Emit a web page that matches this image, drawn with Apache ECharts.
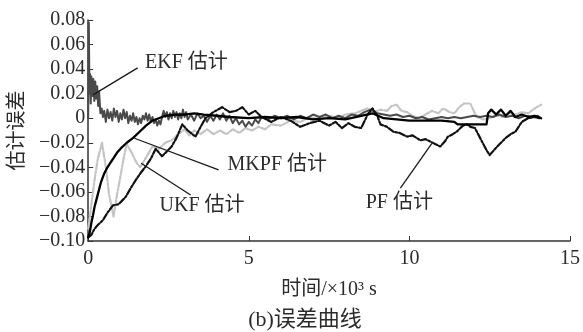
<!DOCTYPE html>
<html>
<head>
<meta charset="utf-8">
<script src="https://cdn.jsdelivr.net/npm/echarts@6/dist/echarts.min.js"></script>
<style>
  html, body { margin: 0; padding: 0; background: #fff; }
  #chart { width: 583px; height: 332px; }
</style>
</head>
<body>
<div id="chart"></div>
<script>
// Estimation error of four filters over time (time in 10^3 s)
const xTicks = [0, 5, 10, 15];
const yTicks = [-0.10, -0.08, -0.06, -0.04, -0.02, 0, 0.02, 0.04, 0.06, 0.08];

// EKF estimate error: [time, error]
const ekfData = [
  [0.00, 0.000], [0.02, 0.078], [0.04, 0.020], [0.06, 0.036], [0.08, 0.012], [0.10, 0.034],
  [0.13, 0.018], [0.16, 0.032], [0.19, 0.014], [0.22, 0.030], [0.25, 0.016], [0.28, 0.026],
  [0.31, 0.010], [0.34, 0.022], [0.38, 0.004], [0.42, 0.008], [0.46, 0.001], [0.50, 0.006],
  [0.55, -0.003], [0.60, 0.007], [0.65, 0.000], [0.70, 0.005], [0.75, -0.002], [0.80, 0.008],
  [0.85, 0.001], [0.90, 0.006], [0.95, -0.003], [1.00, 0.004], [1.05, -0.001], [1.10, 0.007],
  [1.15, 0.000], [1.20, 0.005], [1.25, -0.004], [1.30, 0.002], [1.35, -0.002], [1.40, 0.004],
  [1.45, -0.003], [1.50, 0.001], [1.55, -0.005], [1.60, 0.000], [1.65, -0.004], [1.70, 0.002],
  [1.75, -0.001], [1.80, 0.004], [1.85, -0.002], [1.90, 0.003], [1.95, -0.003], [2.00, 0.001],
  [2.05, -0.004], [2.10, -0.001], [2.15, -0.006], [2.20, -0.002], [2.25, -0.005], [2.30, 0.001],
  [2.35, 0.006], [2.40, 0.001], [2.45, 0.005], [2.50, -0.001], [2.55, 0.004], [2.60, 0.000],
  [2.65, 0.006], [2.70, 0.001], [2.75, 0.005], [2.80, -0.001], [2.85, 0.004], [2.90, 0.000],
  [2.95, 0.007], [3.00, 0.001], [3.05, 0.005], [3.10, -0.001], [3.20, 0.003], [3.30, -0.002],
  [3.40, 0.004], [3.50, 0.000], [3.60, 0.002], [3.70, -0.003], [3.80, 0.002], [3.90, -0.002],
  [4.00, 0.003], [4.10, -0.001], [4.20, 0.004], [4.30, -0.002], [4.40, 0.002], [4.50, -0.004],
  [4.60, 0.000], [4.70, -0.005], [4.80, -0.002], [4.90, -0.007], [5.00, -0.003], [5.10, -0.006],
  [5.20, -0.001], [5.30, -0.004], [5.40, 0.001], [5.60, -0.001], [5.80, 0.002], [6.00, 0.000],
  [6.20, 0.002], [6.40, -0.001], [6.60, 0.002], [6.80, 0.000], [7.00, 0.003], [7.20, 0.001],
  [7.40, 0.003], [7.60, 0.000], [7.80, 0.002], [8.00, 0.000], [8.20, 0.003], [8.40, 0.002],
  [8.60, 0.005], [8.80, 0.007], [9.00, 0.004], [9.20, 0.003], [9.40, 0.002], [9.60, 0.003],
  [9.80, 0.001], [10.00, 0.002], [10.20, 0.000], [10.40, 0.001], [10.60, -0.001], [10.80, 0.000],
  [11.00, 0.001], [11.20, 0.000], [11.40, 0.001], [11.60, 0.000], [11.80, 0.001], [12.00, 0.002],
  [12.20, 0.001], [12.40, 0.002], [12.60, 0.001], [12.80, 0.003], [13.00, 0.001], [13.20, 0.002],
  [13.40, 0.000], [13.60, 0.002], [13.80, 0.001], [14.00, 0.002], [14.10, 0.000]
];

// UKF estimate error
const ukfData = [
  [0.00, -0.090], [0.10, -0.070], [0.20, -0.050], [0.30, -0.033], [0.43, -0.020], [0.55, -0.040],
  [0.65, -0.062], [0.79, -0.080], [0.90, -0.062], [1.00, -0.048], [1.10, -0.033], [1.20, -0.021],
  [1.35, -0.028], [1.50, -0.036], [1.62, -0.040], [1.80, -0.032], [2.00, -0.023], [2.20, -0.025],
  [2.40, -0.020], [2.60, -0.018], [2.80, -0.013], [3.00, -0.009], [3.15, -0.014], [3.30, -0.010],
  [3.50, -0.013], [3.70, -0.009], [3.90, -0.013], [4.10, -0.010], [4.30, -0.013], [4.50, -0.009],
  [4.70, -0.012], [4.90, -0.008], [5.10, -0.010], [5.30, -0.007], [5.50, -0.009], [5.70, -0.005],
  [6.00, -0.006], [6.30, -0.002], [6.60, -0.003], [6.90, 0.001], [7.20, -0.001], [7.50, 0.002],
  [7.80, 0.000], [8.00, 0.003], [8.30, 0.004], [8.50, 0.006], [8.70, 0.008], [8.90, 0.005],
  [9.10, 0.007], [9.30, 0.006], [9.45, 0.010], [9.60, 0.011], [9.75, 0.006], [9.93, 0.005],
  [10.10, 0.002], [10.30, 0.000], [10.50, 0.003], [10.70, 0.006], [10.90, 0.004], [11.05, 0.008],
  [11.25, 0.005], [11.40, 0.004], [11.55, 0.009], [11.70, 0.012], [11.90, 0.012], [12.00, 0.006],
  [12.10, 0.001], [12.30, -0.001], [12.50, 0.000], [12.70, 0.003], [12.90, 0.001], [13.10, 0.004],
  [13.30, 0.003], [13.50, 0.005], [13.70, 0.004], [13.90, 0.008], [14.10, 0.011]
];

// PF estimate error
const pfData = [
  [0.00, -0.097], [0.10, -0.095], [0.20, -0.090], [0.30, -0.087], [0.46, -0.083], [0.60, -0.077],
  [0.77, -0.071], [0.95, -0.070], [1.17, -0.064], [1.30, -0.058], [1.49, -0.050], [1.65, -0.044],
  [1.80, -0.039], [1.95, -0.033], [2.10, -0.025], [2.30, -0.031], [2.45, -0.027], [2.60, -0.023],
  [2.75, -0.016], [2.93, -0.005], [3.10, -0.010], [3.34, -0.015], [3.50, -0.007], [3.65, 0.000],
  [3.90, 0.005], [4.17, 0.009], [4.40, 0.005], [4.60, 0.006], [4.80, 0.009], [5.00, 0.003],
  [5.20, 0.006], [5.40, 0.001], [5.70, -0.003], [6.00, 0.001], [6.30, -0.002], [6.60, -0.007],
  [6.90, -0.004], [7.20, -0.002], [7.50, -0.006], [7.70, -0.003], [7.90, -0.008], [8.10, -0.004],
  [8.30, -0.007], [8.50, -0.008], [8.70, 0.003], [8.85, 0.008], [9.00, 0.002], [9.10, -0.005],
  [9.30, -0.007], [9.50, -0.011], [9.70, -0.012], [9.93, -0.015], [10.10, -0.014], [10.34, -0.018],
  [10.50, -0.017], [10.65, -0.019], [10.80, -0.021], [10.96, -0.023], [11.10, -0.019], [11.20, -0.015],
  [11.35, -0.013], [11.47, -0.011], [11.67, -0.006], [11.80, -0.005], [11.90, -0.007], [12.04, -0.008],
  [12.20, -0.016], [12.30, -0.021], [12.40, -0.026], [12.50, -0.030], [12.60, -0.027], [12.70, -0.024],
  [12.85, -0.020], [13.00, -0.016], [13.15, -0.013], [13.30, -0.011], [13.50, -0.003], [13.70, 0.000],
  [13.90, 0.001], [14.05, 0.000]
];

// MKPF estimate error
const mkpfData = [
  [0.00, -0.097], [0.05, -0.093], [0.10, -0.085], [0.15, -0.079], [0.20, -0.072], [0.30, -0.062],
  [0.40, -0.052], [0.50, -0.045], [0.60, -0.040], [0.70, -0.036], [0.80, -0.032], [0.90, -0.028],
  [1.00, -0.025], [1.20, -0.020], [1.40, -0.016], [1.60, -0.011], [1.80, -0.006], [2.00, -0.002],
  [2.20, 0.000], [2.40, 0.002], [2.70, 0.003], [3.00, 0.003], [3.30, 0.004], [3.60, 0.003],
  [4.00, 0.002], [4.40, 0.001], [5.00, 0.000], [5.50, 0.001], [6.00, 0.000], [6.50, 0.001],
  [7.00, -0.001], [7.50, 0.000], [8.00, -0.001], [8.50, 0.002], [8.85, 0.004], [9.20, 0.000],
  [9.60, -0.001], [10.00, -0.002], [10.50, -0.002], [11.00, -0.002], [11.40, -0.003], [11.50, -0.005],
  [12.00, -0.005], [12.40, -0.005], [12.45, 0.004], [12.55, 0.007], [12.70, 0.003], [12.85, 0.007],
  [13.00, 0.002], [13.15, 0.006], [13.30, 0.001], [13.50, 0.003], [13.70, 0.001], [13.90, 0.002],
  [14.10, 0.000]
];

// Callout labels: text, text anchor [t, err], leader line from [t, err] to [t, err]
const callouts = [
  { text: 'EKF 估计',  at: [1.77, 0.0452], from: [1.54, 0.041],  to: [0.15, 0.019] },
  { text: 'MKPF 估计', at: [4.34, -0.038], from: [4.06, -0.042], to: [1.44, -0.0163] },
  { text: 'UKF 估计',  at: [2.22, -0.0715], from: [3.19, -0.0625], to: [1.65, -0.0367] },
  { text: 'PF 估计',   at: [8.64, -0.0685], from: [9.72, -0.057], to: [10.70, -0.0204] }
];

const xName = '时间/×10³ s';
const yName = '估计误差';
const caption = '(b)误差曲线';

const FONT = "'Liberation Serif', 'Noto Sans CJK SC', serif";
const TXT = '#2b2b2b';

const chart = echarts.init(document.getElementById('chart'), null, { renderer: 'canvas' });

function fmtY(v) {
  const r = Math.round(v * 100) / 100;
  if (r === 0) return '0';
  return (r < 0 ? '\u2212' : '') + Math.abs(r).toFixed(2);
}

const lineSeries = (name, data, color, width, type, z) => ({
  name, type: 'line', data, showSymbol: false, symbol: 'none', z,
  lineStyle: { color, width, type, cap: 'round', join: 'round' },
  animation: false, silent: true
});

chart.setOption({
  animation: false,
  backgroundColor: '#fff',
  grid: { left: 85, right: 12, top: 20, bottom: 91, containLabel: false },
  xAxis: {
    type: 'value', min: 0, max: 15, interval: 5,
    name: xName, nameLocation: 'middle', nameGap: 39,
    nameTextStyle: { fontFamily: FONT, fontSize: 20, color: TXT },
    axisLine: { show: true, onZero: false, lineStyle: { color: '#333', width: 1.5 } },
    axisTick: { show: true, inside: true, length: 5, lineStyle: { color: '#333', width: 1 } },
    axisLabel: { fontFamily: FONT, fontSize: 20, color: TXT, margin: 8,
      customValues: xTicks, formatter: v => String(v) },
    splitLine: { show: false }
  },
  yAxis: {
    type: 'value', min: -0.10, max: 0.08, interval: 0.02,
    name: yName, nameLocation: 'middle', nameGap: 46, nameRotate: 90,
    nameTextStyle: { fontFamily: FONT, fontSize: 20, color: TXT },
    axisLine: { show: true, onZero: false, lineStyle: { color: '#333', width: 1.5 } },
    axisTick: { show: true, inside: true, length: 5, lineStyle: { color: '#333', width: 1 } },
    axisLabel: { fontFamily: FONT, fontSize: 20, color: TXT, margin: 3,
      customValues: yTicks, formatter: fmtY },
    splitLine: { show: false }
  },
  series: [
    lineSeries('UKF', ukfData, '#c4c4c4', 2.2, [6, 2, 2, 2], 2),
    lineSeries('EKF', ekfData, '#4a4a4a', 2, 'solid', 3),
    lineSeries('PF', pfData, '#111', 2.2, [6, 2, 2, 2], 4),
    lineSeries('MKPF', mkpfData, '#000', 2.3, 'solid', 5)
  ]
});

// Callout text and leader lines placed through the chart's coordinate system
function drawCallouts() {
  const els = [];
  callouts.forEach(c => {
    const p = chart.convertToPixel({ gridIndex: 0 }, c.at);
    const a = chart.convertToPixel({ gridIndex: 0 }, c.from);
    const b = chart.convertToPixel({ gridIndex: 0 }, c.to);
    els.push({ type: 'line', shape: { x1: a[0], y1: a[1], x2: b[0], y2: b[1] },
      style: { stroke: '#1a1a1a', lineWidth: 1.3 }, z: 10 });
    els.push({ type: 'text', x: p[0], y: p[1],
      style: { text: c.text, font: "20px " + FONT, fill: TXT, textAlign: 'left', textVerticalAlign: 'middle' }, z: 10 });
  });
  els.push({ type: 'text', x: 305, y: 320,
    style: { text: caption, font: "22px " + FONT, fill: TXT, textAlign: 'center', textVerticalAlign: 'middle' } });
  chart.setOption({ graphic: els });
}
drawCallouts();
</script>
</body>
</html>
